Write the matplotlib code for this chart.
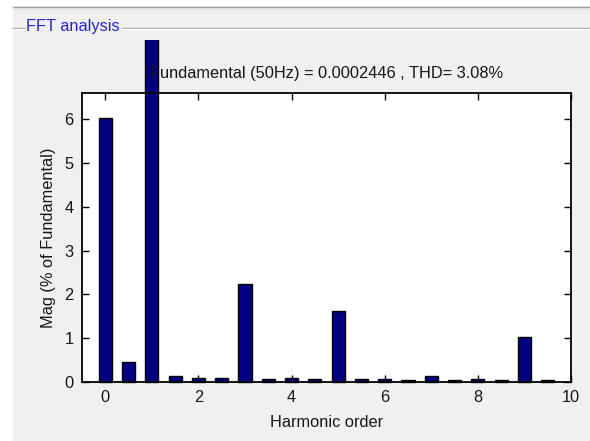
import matplotlib
matplotlib.use('Agg')
import matplotlib.pyplot as plt
from matplotlib.lines import Line2D
from matplotlib.patches import Rectangle
from matplotlib.transforms import Bbox, TransformedBbox

# harmonic spectrum, % of fundamental
orders = [0, 0.5, 1, 1.5, 2, 2.5, 3, 3.5, 4, 4.5,
          5, 5.5, 6, 6.5, 7, 7.5, 8, 8.5, 9, 9.5]
mags = [6.02, 0.45, 100.0, 0.14, 0.10, 0.10, 2.24, 0.07, 0.10, 0.07,
        1.63, 0.07, 0.07, 0.05, 0.14, 0.05, 0.07, 0.05, 1.03, 0.05]
fund_hz = 50
fund_mag = '0.0002446'
thd = 3.08
xticks = [0, 2, 4, 6, 8, 10]
yticks = [0, 1, 2, 3, 4, 5, 6]

W, H = 590, 441
bg = '#f0f0f0'
txt = '#161616'
fs = 11.8
plt.rcParams['font.family'] = ['Liberation Sans', 'DejaVu Sans']

fig = plt.figure(figsize=(W / 100, H / 100), dpi=100, facecolor=bg)

# white margins at top and left, then the panel frame
fig.patches.append(Rectangle((0, 1 - 6 / H), 1, 6 / H, transform=fig.transFigure,
                             facecolor='white', edgecolor='none', zorder=0))
fig.patches.append(Rectangle((0, 0), 13 / W, 1, transform=fig.transFigure,
                             facecolor='white', edgecolor='none', zorder=0))
fig.lines.append(Line2D([13 / W, 1], [1 - 6.5 / H] * 2, transform=fig.transFigure,
                        color='#a0a0a0', lw=1))
fig.lines.append(Line2D([13 / W, 1], [1 - 9 / H] * 2, transform=fig.transFigure,
                        color='#e4e4e4', lw=1))
for x0, x1 in [(13, 24), (122, W)]:
    fig.lines.append(Line2D([x0 / W, x1 / W], [1 - 28 / H] * 2, transform=fig.transFigure,
                            color='#a0a0a0', lw=1))
    fig.lines.append(Line2D([x0 / W, x1 / W], [1 - 29 / H] * 2, transform=fig.transFigure,
                            color='white', lw=1))
fig.text(26 / W, 1 - 26.5 / H, 'FFT analysis', color='#2424c8', fontsize=fs,
         va='center', ha='left')

ax = fig.add_axes([82 / W, 1 - 382 / H, (571 - 82) / W, (382 - 93) / H])
ax.set_facecolor('white')
bars = ax.bar(orders, mags, width=0.285, color='#000080', edgecolor='black',
              linewidth=1, zorder=3)

# the fundamental bar runs out of the axes up to the panel edge
clip = TransformedBbox(Bbox([[0, 0], [1, 1 - 39.5 / H]]), fig.transFigure)
for b in bars:
    b.set_clip_on(True)
    b.set_clip_box(clip)

ax.set_xlim(-0.5, 10)
ax.set_ylim(0, 6.6)
ax.set_xticks(xticks)
ax.set_yticks(yticks)
ax.tick_params(direction='in', length=5, width=1, top=True, right=True,
               labelsize=fs, colors='black', labelcolor=txt, pad=6)
for s in ax.spines.values():
    s.set_linewidth(1.3)
    s.set_zorder(4)

ax.set_xlabel('Harmonic order', fontsize=fs, color=txt, labelpad=7)
ax.set_ylabel('Mag (% of Fundamental)', fontsize=fs, color=txt, labelpad=6)
ttl = ax.set_title(f'Fundamental ({fund_hz}Hz) = {fund_mag} , THD= {thd:.2f}%',
                   fontsize=fs, color=txt, pad=11)
ttl.set_zorder(10)

fig.savefig('out.png', dpi=100, facecolor=bg)
